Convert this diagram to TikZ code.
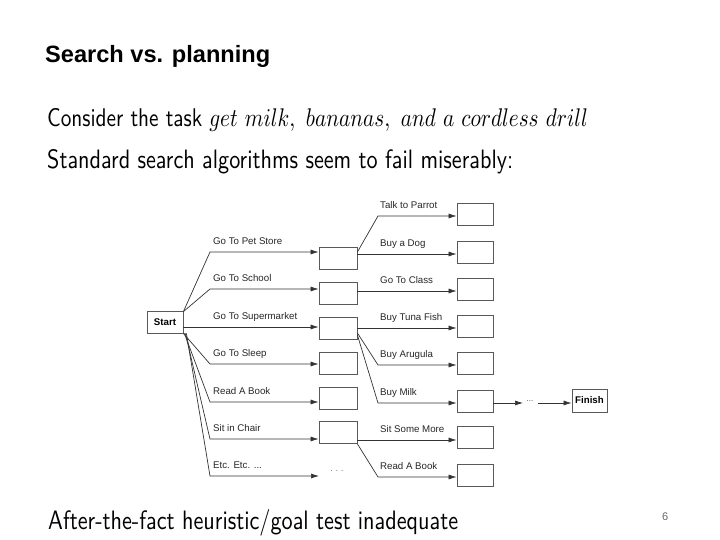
\documentclass[tikz,border=0pt]{standalone}
\usepackage{fontspec}
\usepackage{graphicx}
\usetikzlibrary{arrows.meta}
\newfontfamily\arialf{Liberation Sans}
\definecolor{ln}{gray}{0.2}
\definecolor{bx}{gray}{0.35}
\tikzset{
  box/.style={draw=bx, line width=0.8pt, minimum width=38pt, minimum height=22pt, inner sep=0pt},
  boxb/.style={box, minimum width=36pt},
  endbox/.style={draw=bx, line width=0.8pt, minimum width=36pt, minimum height=22pt, inner sep=0pt,
     font=\arialf\bfseries\fontsize{9.7}{11}\selectfont},
  conn/.style={draw=ln, line width=0.7pt, -{Latex[length=8pt,width=5pt]}},
  lbl/.style={anchor=base west, inner sep=0pt, font=\arialf\fontsize{9.7}{11}\selectfont, text=black!85},
  txt/.style={anchor=base west, inner sep=0pt, font=\sffamily},
  dots/.style={anchor=base, inner sep=0pt, font=\arialf\fontsize{8}{8}\selectfont, text=black!70},
}
\begin{document}
\begin{tikzpicture}[x=1pt,y=-1pt]
\useasboundingbox (0,0) rectangle (720,540);
% texts
\node[txt] (title) at (45,63) {\resizebox{225pt}{!}{\arialf\bfseries Search vs. planning}};
\node[txt] (l1) at (47,127) {\scalebox{1}[1.2]{\resizebox{541pt}{!}{\sffamily Consider the task $get\ milk,\ bananas,\ and\ a\ cordless\ drill$}}};
\node[txt] (l2) at (47,169) {\scalebox{1}[1.2]{\resizebox{466pt}{!}{\sffamily Standard search algorithms seem to fail miserably:}}};
\node[txt] (l3) at (48,529) {\scalebox{1}[1.2]{\resizebox{410pt}{!}{\sffamily After-the-fact heuristic/goal test inadequate}}};
\node[anchor=base west, inner sep=0pt, font=\arialf\fontsize{11}{12}\selectfont, text=black!60] (pg) at (662,520) {6};

% nodes
\node[endbox] (start) at (165,322) {Start};
\node[box] (a1) at (338,258) {};
\node[box] (a2) at (338,293) {};
\node[box] (a3) at (338,328) {};
\node[box] (a4) at (338,363) {};
\node[box] (a5) at (338,398) {};
\node[box] (a6) at (338,432.5) {};
\node[boxb] (b1) at (475,214) {};
\node[boxb] (b2) at (475,252) {};
\node[boxb] (b3) at (475,289) {};
\node[boxb] (b4) at (475,326) {};
\node[boxb] (b5) at (475,363) {};
\node[boxb] (b6) at (475,401) {};
\node[boxb] (b7) at (475,437) {};
\node[boxb] (b8) at (475,475) {};
\node[endbox, minimum width=35pt, minimum height=23pt] (finish) at (589.5,400.5) {Finish};

% first level
\coordinate (p1) at (210,252);
\coordinate (p2) at (210,289);
\coordinate (p3) at (210,327);
\coordinate (p4) at (210,364);
\coordinate (p5) at (210,402);
\coordinate (p6) at (210,439);
\coordinate (p7) at (210,476);
\coordinate (e7) at (319,476);
\draw[conn] ([yshift=-1pt]start.north east) -- (p1) -- (a1.west |- p1);
\draw[conn] ([yshift=-1pt]start.north east) -- (p2) -- (a2.west |- p2);
\draw[conn] (start.east |- p3) -- (a3.west |- p3);
\draw[conn] (start.south east) -- (p4) -- (a4.west |- p4);
\draw[conn] ([xshift=1pt]start.south east) -- (p5) -- (a5.west |- p5);
\draw[conn] ([xshift=2pt]start.south east) -- (p6) -- (a6.west |- p6);
\draw[conn] ([xshift=3pt]start.south east) -- (p7) -- (e7);
\node[lbl] at (213,244) {Go To Pet Store};
\node[lbl] at (213,281) {Go To School};
\node[lbl] at (213,319) {Go To Supermarket};
\node[lbl] at (213,356) {Go To Sleep};
\node[lbl] at (213,394) {Read A Book};
\node[lbl] at (213,431) {Sit in Chair};
\node[lbl] at (213,468) {Etc. Etc. ...};
\node[dots] (d1) at (337,471) {. . .};

% second level
\coordinate (q1) at (378,216);
\coordinate (q2) at (378,254);
\coordinate (q3) at (378,291);
\coordinate (q4) at (378,328);
\coordinate (q5) at (378,365);
\coordinate (q6) at (378,403);
\coordinate (q7) at (378,440);
\coordinate (q8) at (378,477);
\draw[conn] ([yshift=6pt]a1.east) -- (q1) -- (b1.west |- q1);
\draw[conn] (a1.east |- q2) -- (b2.west |- q2);
\draw[conn] (a2.east |- q3) -- (b3.west |- q3);
\draw[conn] (a3.east |- q4) -- (b4.west |- q4);
\draw[conn] ([yshift=-5pt]a3.east) -- (q5) -- (b5.west |- q5);
\draw[conn] ([yshift=-7pt]a3.east) -- (q6) -- (b6.west |- q6);
\draw[conn] (a6.east |- q7) -- (b7.west |- q7);
\draw[conn] (a6.south east) -- (q8) -- (b8.west |- q8);
\node[lbl] at (380,208) {Talk to Parrot};
\node[lbl] at (380,246) {Buy a Dog};
\node[lbl] at (380,283) {Go To Class};
\node[lbl] at (380,320) {Buy Tuna Fish};
\node[lbl] at (380,357) {Buy Arugula};
\node[lbl] at (380,395) {Buy Milk};
\node[lbl] at (380,432) {Sit Some More};
\node[lbl] at (380,469) {Read A Book};

% to finish
\coordinate (r1) at (523,403);
\coordinate (r2) at (538,403);
\draw[conn] (b6.east |- r1) -- (r1);
\node[dots] (d2) at (530,401) {...};
\draw[conn] (r2) -- (finish.west |- r2);
\end{tikzpicture}
\end{document}
